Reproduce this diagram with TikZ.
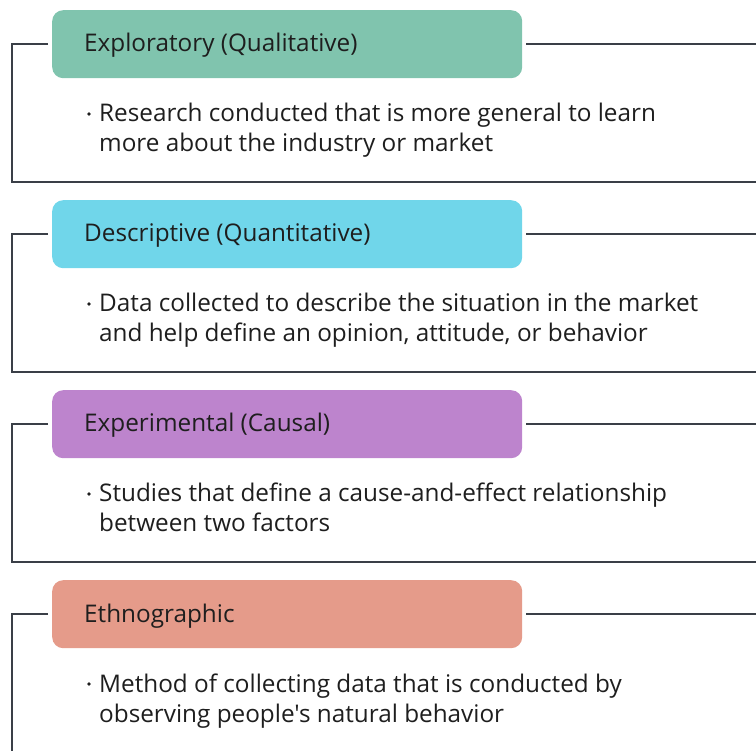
\documentclass[tikz,border=0pt]{standalone}
\usepackage{fontspec}
\newfontfamily\osf{Open Sans}
\definecolor{lc}{HTML}{3A3F47}
\definecolor{cA}{HTML}{80C4AE}
\definecolor{cB}{HTML}{70D6EA}
\definecolor{cC}{HTML}{BD84CD}
\definecolor{cD}{HTML}{E59B8A}
\definecolor{tx}{HTML}{1E1E1E}
\tikzset{
  hdr/.style={rounded corners=11pt, minimum width=470pt, minimum height=68pt, anchor=north west, inner sep=0pt},
  htext/.style={anchor=base west, inner sep=0pt, text=tx, font=\osf\fontsize{24.3}{28}\selectfont},
  body/.style={anchor=base west, align=left, inner sep=0pt, text=tx, font=\osf\fontsize{24.3}{30}\selectfont},
  bline/.style={draw=lc, line width=1.8pt},
}
\begin{document}
\begin{tikzpicture}[x=1pt,y=-1pt]
\useasboundingbox (0,0) rectangle (756,751);
\foreach \i/\c/\h/\la/\lb in {0/cA/{Exploratory (Qualitative)}/{Research conducted that is more general to learn}/{more about the industry or market},
  1/cB/{Descriptive (Quantitative)}/{Data collected to describe the situation in the market}/{and help define an opinion, attitude, or behavior},
  2/cC/{Experimental (Causal)}/{Studies that define a cause-and-effect relationship}/{between two factors},
  3/cD/{Ethnographic}/{Method of collecting data that is conducted by}/{observing people's natural behavior}}{
  \pgfmathsetmacro{\yo}{190*\i}
  \begin{scope}[yshift={-\yo pt}]
    \node[hdr, fill=\c] (h\i) at (52,10) {};
    \node[htext] (t\i) at (84,52) {\h};
    \coordinate (l\i) at (48,44);
    \coordinate (c\i) at (12,44);
    \coordinate (r\i) at (756,44);
    \coordinate (bl\i) at (12,182);
    \coordinate (br\i) at (756,182);
    \coordinate (rs\i) at (526,44);
    \draw[bline] (l\i) -- (c\i) -- (bl\i) -- (br\i);
    \draw[bline] (rs\i) -- (r\i);
    \fill[tx] (89,114) circle (1.8pt) coordinate (d\i);
    \node[body] (b\i) at (99,152) {\la\\\lb};
  \end{scope}
}
\end{tikzpicture}
\end{document}
